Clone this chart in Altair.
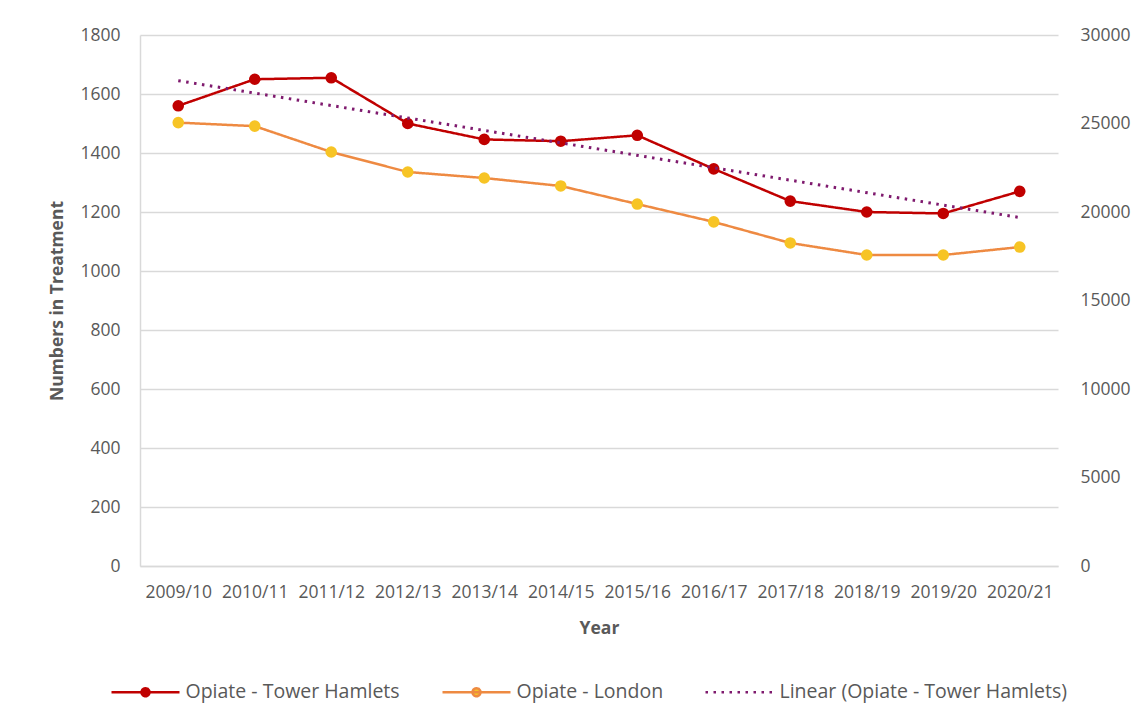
import json
import altair as alt
import pandas as pd

years = ["2009/10", "2010/11", "2011/12", "2012/13", "2013/14", "2014/15",
         "2015/16", "2016/17", "2017/18", "2018/19", "2019/20", "2020/21"]
tower_hamlets = [1560, 1650, 1655, 1500, 1446, 1440, 1460, 1346, 1237, 1200, 1195, 1270]
london = [25050, 24850, 23390, 22260, 21920, 21470, 20450, 19440, 18250, 17570, 17570, 18020]

TH = "Opiate - Tower Hamlets"
LON = "Opiate - London"
LIN = "Linear (Opiate - Tower Hamlets)"
series_domain = [TH, LON, LIN]
line_colors = ["#C00000", "#EE8A42", "#7F1A6E"]
marker_colors = ["#C00000", "#F7C425", "transparent"]
dashes = [[1, 0], [1, 0], [2.5, 5.5]]

left_ticks = list(range(0, 1801, 200))
right_ticks = list(range(0, 30001, 5000))

df = pd.DataFrame({
    "year": years * 2,
    "idx": list(range(len(years))) * 2,
    "series": [TH] * len(years) + [LON] * len(years),
    "value": tower_hamlets + london,
})

FONT = "Open Sans"
TXT = "#595959"
GRID = "#D9D9D9"

circle_path = "M-4,0H4M-0.47,0A0.47,0.47,0,1,1,0.47,0A0.47,0.47,0,1,1,-0.47,0Z"
line_path = "M-4,0H4"
sym_expr = f"datum.value === '{LIN}' ? '{line_path}' : '{circle_path}'"

legend = alt.Legend(
    title=None, orient="none", direction="horizontal", legendX=-4.5, legendY=647,
    symbolType=alt.ExprRef(sym_expr), symbolSize=289, symbolStrokeWidth=2.5,
    labelOffset=30, columnPadding=37, labelFontSize=19.5, labelFont=FONT,
    labelColor=TXT, padding=0, labelLimit=400,
)

stroke_enc = alt.Stroke("series:N", scale=alt.Scale(domain=series_domain, range=line_colors), legend=legend)
fill_enc = alt.Fill("series:N", scale=alt.Scale(domain=series_domain, range=marker_colors), legend=legend)
dash_enc = alt.StrokeDash("series:N", scale=alt.Scale(domain=series_domain, range=dashes), legend=legend)

x_enc = alt.X("year:N", sort=years, axis=alt.Axis(
    title="Year", labelAngle=0, ticks=False, grid=False, domainColor=GRID, domainWidth=1.5,
    labelPadding=17, titlePadding=19, labelFontSize=17.5, titleFontSize=17.5,
    titleFontWeight="bold", labelColor=TXT, titleColor=TXT, labelFont=FONT, titleFont=FONT))

y_left = alt.Y("value:Q", scale=alt.Scale(domain=[0, 1800]), axis=alt.Axis(
    orient="left", values=left_ticks, format="d", title="Numbers in Treatment", grid=True,
    gridColor=GRID, gridWidth=1.5, domainColor=GRID, domainWidth=1.5, ticks=False,
    labelPadding=20, titlePadding=13, labelFontSize=17.5, titleFontSize=17.5,
    titleFontWeight="bold", labelColor=TXT, titleColor=TXT, labelFont=FONT, titleFont=FONT))

y_right = alt.Y("value:Q", scale=alt.Scale(domain=[0, 30000]), axis=alt.Axis(
    orient="right", values=right_ticks, format="d", title=None, grid=False, domain=False,
    ticks=False, labelPadding=22, labelFontSize=17.5, labelColor=TXT, labelFont=FONT))

base = alt.Chart(df)

lon_base = base.transform_filter(alt.datum.series == LON)
lon_line = lon_base.mark_line(strokeWidth=2.5).encode(x=x_enc, y=y_right, stroke=stroke_enc, strokeDash=dash_enc)
lon_pts = lon_base.mark_circle(size=135, opacity=1).encode(x=x_enc, y=y_right, fill=fill_enc)
lon_layer = alt.layer(lon_line, lon_pts)

th_base = base.transform_filter(alt.datum.series == TH)
th_line = th_base.mark_line(strokeWidth=2.5).encode(x=x_enc, y=y_left, stroke=stroke_enc, strokeDash=dash_enc)
th_pts = th_base.mark_circle(size=135, opacity=1).encode(x=x_enc, y=y_left, fill=fill_enc)
trend = (
    th_base.transform_regression("idx", "value")
    .transform_calculate(year=f"{json.dumps(years)}[datum.idx]", series=f"'{LIN}'")
    .mark_line(strokeWidth=3)
    .encode(x=x_enc, y=y_left, stroke=stroke_enc, strokeDash=dash_enc)
)
th_layer = alt.layer(th_line, th_pts, trend)

chart = (
    alt.layer(lon_layer, th_layer)
    .resolve_scale(y="independent")
    .properties(
        width=918, height=531,
        padding={"left": 132, "top": 27, "right": 73, "bottom": 153},
        autosize=alt.AutoSizeParams(type="none"),
        background="white",
    )
    .configure_view(stroke=None)
)

chart.save("out.html", embed_options={"renderer": "svg", "actions": False})
